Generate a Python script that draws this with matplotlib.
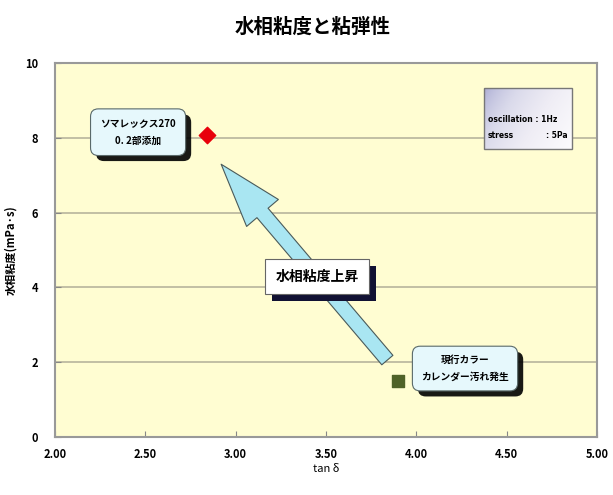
import matplotlib

matplotlib.use("Agg")
import matplotlib.pyplot as plt
import matplotlib.patches as mpatches
import matplotlib.patheffects as pe
import numpy as np

plt.rcParams["font.family"] = ["Noto Sans CJK JP", "DejaVu Sans"]

# Data
TAN_DELTA = [2.84, 3.90]
VISCOSITY = [8.08, 1.50]
MARKERS = ["D", "s"]
COLORS = ["#E8000B", "#4F6228"]
LABELS = ["ソマレックス270\n0. 2部添加", "現行カラー\nカレンダー汚れ発生"]

X_TICKS = [2.0, 2.5, 3.0, 3.5, 4.0, 4.5, 5.0]
Y_TICKS = [0, 2, 4, 6, 8, 10]

ARROW_FROM = (3.85, 2.0)
ARROW_TO = (2.91, 7.35)

fig = plt.figure(figsize=(6.13, 4.95), dpi=100)
ax = fig.add_axes([0.0897, 0.1172, 0.884, 0.7555])
ax.set_facecolor("#FFFDD2")

for y in Y_TICKS[1:-1]:
    ax.axhline(y, color="#B8B49C", linewidth=1.2, zorder=1)

# arrow showing the viscosity increase
arrow = mpatches.FancyArrowPatch(
    ARROW_FROM, ARROW_TO,
    arrowstyle="simple,head_length=4.6,head_width=3.0,tail_width=1.05",
    mutation_scale=10, facecolor="#A9E6F2", edgecolor="#4A5A5A",
    linewidth=0.8, zorder=3,
)
ax.add_patch(arrow)

for x, y, m, c in zip(TAN_DELTA, VISCOSITY, MARKERS, COLORS):
    ax.scatter(x, y, marker=m, s=70, color=c, edgecolor=c, zorder=5)

shadow = [pe.withSimplePatchShadow(offset=(4, -4), shadow_rgbFace="black", alpha=0.9)]

# callouts next to the points
t1 = ax.text(2.46, 8.15, LABELS[0], ha="center", va="center", fontsize=7,
             fontweight="bold", linespacing=1.9, zorder=6,
             bbox=dict(boxstyle="round,pad=1.0,rounding_size=0.8",
                       facecolor="#E6F8FC", edgecolor="#5A6A6A", linewidth=0.8))
t1.get_bbox_patch().set_path_effects(shadow)

t2 = ax.text(4.27, 1.83, LABELS[1], ha="center", va="center", fontsize=7,
             fontweight="bold", linespacing=1.9, zorder=6,
             bbox=dict(boxstyle="round,pad=0.9,rounding_size=0.8",
                       facecolor="#E6F8FC", edgecolor="#5A6A6A", linewidth=0.8))
t2.get_bbox_patch().set_path_effects(shadow)

t3 = ax.text(3.45, 4.29, "水相粘度上昇", ha="center", va="center", fontsize=10,
             fontweight="bold", zorder=6,
             bbox=dict(boxstyle="square,pad=0.75", facecolor="white",
                       edgecolor="#666666", linewidth=0.8))
t3.get_bbox_patch().set_path_effects(
    [pe.withSimplePatchShadow(offset=(5, -5), shadow_rgbFace="#111133", alpha=1.0)]
)

# condition box with grey gradient
x0, x1, y0, y1 = 4.375, 4.86, 7.70, 9.33
grad = np.linspace(0, 1, 100)
gx, gy = np.meshgrid(grad, grad)
img = np.clip(0.3 + 0.7 * (gx * 0.7 + gy * 0.3) ** 0.6, 0, 1)
im = ax.imshow(img, extent=[x0, x1, y0, y1], origin="upper", cmap="Purples_r",
               vmin=-0.5, vmax=1.0, aspect="auto", zorder=6)
rect = mpatches.Rectangle((x0, y0), x1 - x0, y1 - y0, facecolor="none",
                          edgecolor="#777777", linewidth=1.0, zorder=7)
ax.add_patch(rect)
im.set_clip_path(rect)
ax.text(x0 + 0.02, 8.5, "oscillation : 1Hz", fontsize=5.5, fontweight="bold",
        va="center", zorder=8, family="DejaVu Sans")
ax.text(x0 + 0.02, 8.05, "stress", fontsize=5.5, fontweight="bold",
        va="center", zorder=8, family="DejaVu Sans")
ax.text(x1 - 0.02, 8.05, ": 5Pa", fontsize=5.5, fontweight="bold",
        va="center", ha="right", zorder=8, family="DejaVu Sans")

ax.set_xlim(2.0, 5.0)
ax.set_ylim(0, 10)
ax.set_xticks(X_TICKS)
ax.set_xticklabels([f"{v:.2f}" for v in X_TICKS], fontsize=8, fontweight="bold")
ax.set_yticks(Y_TICKS)
ax.set_yticklabels([str(v) for v in Y_TICKS], fontsize=8, fontweight="bold")
ax.tick_params(axis="both", length=4, color="#888888", direction="in")
ax.tick_params(axis="x", pad=8)
ax.tick_params(axis="y", pad=12)
for spine in ax.spines.values():
    spine.set_color("#999999")
    spine.set_linewidth(1.5)

ax.set_xlabel("tan δ", fontsize=8, labelpad=2)
ax.set_ylabel("水相粘度(mPa·s)", fontsize=8, fontweight="bold", labelpad=6)
fig.text(0.51, 0.945, "水相粘度と粘弾性", ha="center", va="center",
         fontsize=14, fontweight="bold")

fig.savefig("out.png", dpi=100)
